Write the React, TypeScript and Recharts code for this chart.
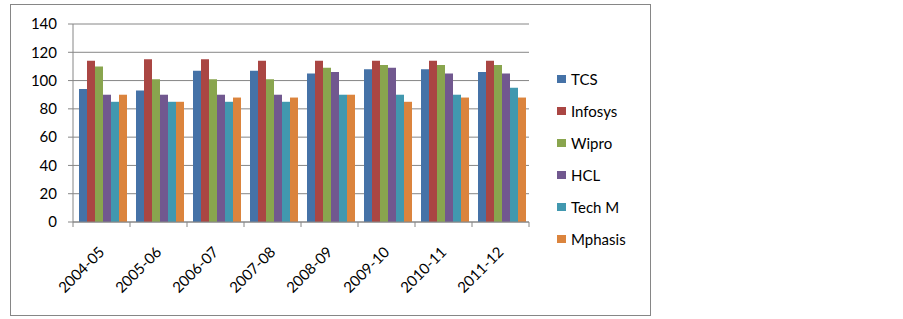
import React from 'react';
import { BarChart, Bar, XAxis, YAxis, CartesianGrid, Legend } from 'recharts';

const years = ['2004-05', '2005-06', '2006-07', '2007-08', '2008-09', '2009-10', '2010-11', '2011-12'];
const tcs = [94, 93, 107, 107, 105, 108, 108, 106];
const infosys = [114, 115, 115, 114, 114, 114, 114, 114];
const wipro = [110, 101, 101, 101, 109, 111, 111, 111];
const hcl = [90, 90, 90, 90, 106, 109, 105, 105];
const techM = [85, 85, 85, 85, 90, 90, 90, 95];
const mphasis = [90, 85, 88, 88, 90, 85, 88, 88];
const yTicks = [0, 20, 40, 60, 80, 100, 120, 140];

const series = [
  { key: 'TCS', values: tcs, color: '#4572A7' },
  { key: 'Infosys', values: infosys, color: '#AA4643' },
  { key: 'Wipro', values: wipro, color: '#89A54E' },
  { key: 'HCL', values: hcl, color: '#71588F' },
  { key: 'Tech M', values: techM, color: '#4198AF' },
  { key: 'Mphasis', values: mphasis, color: '#DB843D' },
];

const data = years.map((y, i) => {
  const row: Record<string, string | number> = { year: y };
  series.forEach((s) => {
    row[s.key] = s.values[i];
  });
  return row;
});

const FONT = 'Lato, "Open Sans", sans-serif';
const GRAY = '#868686';
const BAND = 57;

const XTick = (props: any) => {
  const { x, y, payload, index } = props;
  const half = BAND / 2;
  return (
    <g>
      <line x1={x - half} y1={y} x2={x - half} y2={y + 5} stroke={GRAY} />
      {index === years.length - 1 && (
        <line x1={x + half} y1={y} x2={x + half} y2={y + 5} stroke={GRAY} />
      )}
      <text
        x={x + 4}
        y={y + 31}
        transform={`rotate(-45 ${x + 4} ${y + 31})`}
        textAnchor="end"
        fill="#000"
        fontSize={15}
        fontFamily={FONT}
      >
        {payload.value}
      </text>
    </g>
  );
};

const LegendContent = () => {
  return (
    <div>
      {series.map((s) => (
        <div
          key={s.key}
          style={{ height: 32, display: 'flex', alignItems: 'center', fontFamily: FONT, fontSize: 15, color: '#000', whiteSpace: 'nowrap' }}
        >
          <span style={{ display: 'inline-block', width: 9, height: 8, background: s.color, marginRight: 5 }} />
          <span>{s.key}</span>
        </div>
      ))}
    </div>
  );
};

export default function App() {
  return (
    <div style={{ position: 'absolute', left: 0, top: 0, width: 903, height: 319, background: '#fff' }}>
      <div
        style={{
          position: 'absolute',
          left: 10,
          top: 4,
          width: 641,
          height: 312,
          border: `1px solid ${GRAY}`,
          boxSizing: 'border-box',
        }}
      />
      <div style={{ position: 'absolute', left: 0, top: 0 }}>
        <BarChart
          width={903}
          height={319}
          data={data}
          margin={{ top: 24, right: 274, bottom: 0, left: 0 }}
          barCategoryGap={6}
          barGap={0}
        >
          <CartesianGrid vertical={false} stroke={GRAY} />
          <XAxis
            dataKey="year"
            height={97}
            interval={0}
            axisLine={{ stroke: GRAY }}
            tickLine={false}
            tickSize={0}
            tickMargin={0}
            tick={<XTick />}
          />
          <YAxis
            width={73}
            domain={[0, 140]}
            ticks={yTicks}
            interval={0}
            axisLine={{ stroke: GRAY }}
            tickLine={{ stroke: GRAY }}
            tickSize={5}
            tickMargin={11}
            tick={{ fill: '#000', fontSize: 15, fontFamily: FONT }}
          />
          <Legend
            layout="vertical"
            align="right"
            verticalAlign="middle"
            content={<LegendContent />}
            wrapperStyle={{ position: 'absolute', left: 557, top: 63, width: 100, height: 192 }}
          />
          {series.map((s) => (
            <Bar key={s.key} dataKey={s.key} fill={s.color} isAnimationActive={false} />
          ))}
        </BarChart>
      </div>
    </div>
  );
}
